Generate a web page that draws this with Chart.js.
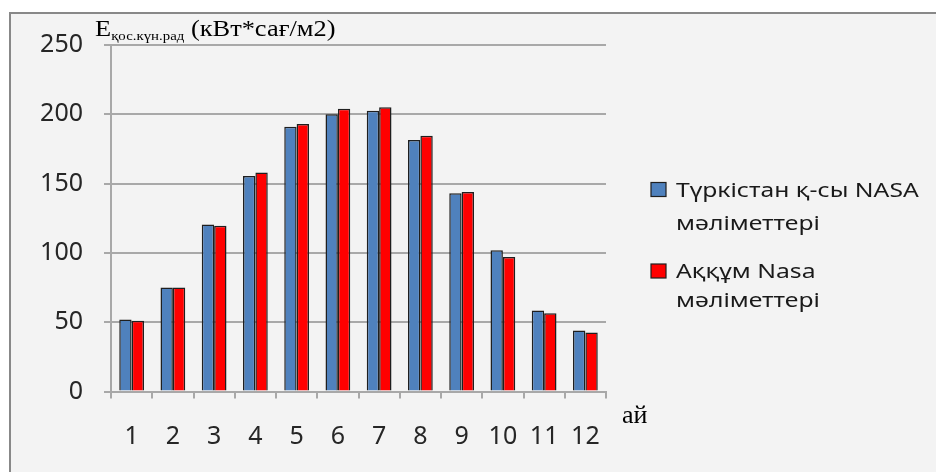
<!DOCTYPE html>
<html>
<head>
<meta charset="utf-8">
<script src="https://cdn.jsdelivr.net/npm/chart.js@4.4.1/dist/chart.umd.min.js"></script>
<style>
  html, body { margin: 0; padding: 0; background: #fff; overflow: hidden; }
  #frame {
    position: absolute; left: 9px; top: 12px;
    width: 1000px; height: 520px;
    border: 2px solid #888;
    background: #f3f3f3;
  }
  #chart { position: absolute; left: 0; top: 0; }
</style>
</head>
<body>
<div id="frame"></div>
<canvas id="chart" width="936" height="472"></canvas>
<script>
// months and monthly radiation values (kWh/m2)
const months = ['1', '2', '3', '4', '5', '6', '7', '8', '9', '10', '11', '12'];
const turkistan = [52, 75, 120.5, 155.5, 191, 200, 202.5, 181.5, 143, 102, 58.5, 44];
const akkum = [51, 75, 119.5, 158, 193, 204, 205, 184.5, 144, 97, 56.5, 42.5];
const yTicks = [0, 50, 100, 150, 200, 250];

const seriesNames = [
  ['Түркістан қ-сы NASA', 'мәліметтері'],
  ['Аққұм Nasa', 'мәліметтері'],
];
const titleMain = 'E';
const titleSub = 'қос.күн.рад';
const titleUnit = ' (кВт*сағ/м2)';
const xTitle = 'ай';

const BLUE = '#4f81bd';
const RED = '#ff0000';
const GRID = '#a8a8a8';
const TICK_FONT = { family: "'Noto Sans', sans-serif", size: 25 };

// the source picture is a bit stretched sideways, so text is widened a little
function wideText(ctx, text, x, y, sx) {
  ctx.save();
  ctx.translate(x, y);
  ctx.scale(sx, 1);
  ctx.fillText(text, 0, 0);
  ctx.restore();
  return ctx.measureText(text).width * sx;
}

// title, axis caption and legend drawn by hand (Excel-style layout)
const annotate = {
  id: 'annotate',
  afterDraw(chart) {
    const ctx = chart.ctx;
    const area = chart.chartArea;
    ctx.save();
    ctx.fillStyle = '#000';
    ctx.textBaseline = 'alphabetic';

    let x = area.left - 16;
    const base = area.top - 9;
    ctx.font = "24px 'Liberation Serif'";
    x += wideText(ctx, titleMain, x, base, 1.1);
    ctx.font = "13.5px 'Liberation Serif'";
    x += wideText(ctx, titleSub, x, base + 4, 1.1);
    ctx.font = "24px 'Liberation Serif'";
    wideText(ctx, titleUnit, x, base, 1.1);

    ctx.font = "26px 'Liberation Serif'";
    ctx.fillText(xTitle, area.right + 16, area.bottom + 31);

    // legend
    const colors = [BLUE, RED];
    const tops = [182.5, 264];
    const lineGap = [33, 29];
    ctx.font = "19px 'Noto Sans'";
    seriesNames.forEach((lines, i) => {
      const bx = area.right + 45;
      ctx.fillStyle = colors[i];
      ctx.fillRect(bx, tops[i], 15, 14);
      ctx.strokeStyle = '#1f1f1f';
      ctx.lineWidth = 1.2;
      ctx.strokeRect(bx, tops[i], 15, 14);
      ctx.fillStyle = '#1a1a1a';
      lines.forEach((t, j) => {
        wideText(ctx, t, bx + 25, tops[i] + 14 + j * lineGap[i], 1.3);
      });
    });
    ctx.restore();
  }
};

new Chart(document.getElementById('chart'), {
  type: 'bar',
  data: {
    labels: months,
    datasets: [
      {
        label: seriesNames[0].join(' '),
        data: turkistan,
        backgroundColor: BLUE,
        borderColor: '#1f1f1f',
        borderWidth: 1.5,
        categoryPercentage: 0.6,
        barPercentage: 1,
      },
      {
        label: seriesNames[1].join(' '),
        data: akkum,
        backgroundColor: RED,
        borderColor: '#1f1f1f',
        borderWidth: 1.5,
        categoryPercentage: 0.6,
        barPercentage: 1,
      },
    ],
  },
  options: {
    responsive: false,
    animation: false,
    layout: { padding: { left: 0, right: 330, top: 45, bottom: 0 } },
    plugins: {
      legend: { display: false },
      tooltip: { enabled: false },
    },
    scales: {
      x: {
        grid: {
          offset: true,
          drawOnChartArea: false,
          drawTicks: true,
          tickLength: 7,
          color: GRID,
          lineWidth: 2,
        },
        border: { color: GRID, width: 2 },
        ticks: { color: '#262626', font: TICK_FONT, padding: 23, maxRotation: 0 },
        afterFit: s => { s.height = 80.5; },
      },
      y: {
        min: 0,
        max: 250,
        afterBuildTicks: s => { s.ticks = yTicks.map(v => ({ value: v })); },
        grid: { color: GRID, lineWidth: 2, tickLength: 7 },
        border: { color: GRID, width: 2 },
        ticks: { color: '#262626', font: TICK_FONT, padding: 21 },
        afterFit: s => { s.width = 111; },
      },
    },
  },
  plugins: [annotate],
});
</script>
</body>
</html>
